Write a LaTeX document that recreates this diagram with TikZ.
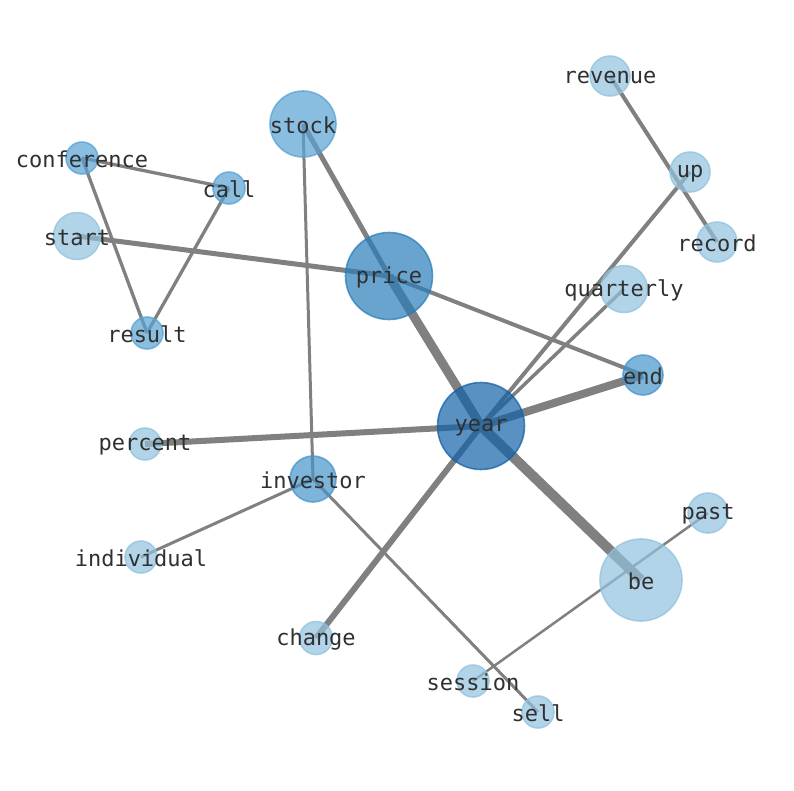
\documentclass[tikz,border=0pt]{standalone}
\usepackage{fontspec}
\setmonofont{DejaVu Sans Mono}
\definecolor{cA}{RGB}{146,194,222}
\definecolor{cB}{RGB}{89,162,211}
\definecolor{cBC}{RGB}{70,148,202}
\definecolor{cC}{RGB}{42,126,186}
\definecolor{cD}{RGB}{19,98,169}
\definecolor{edgec}{RGB}{128,128,128}
\definecolor{txt}{RGB}{48,48,48}
\tikzset{
  nd/.style={circle, inner sep=0pt, fill opacity=0.7, draw opacity=0.75, line width=1.6pt},
  la/.style={nd, fill=cA, draw=cA},
  lb/.style={nd, fill=cB, draw=cB},
  lbc/.style={nd, fill=cBC, draw=cBC},
  lc/.style={nd, fill=cC, draw=cC},
  ld/.style={nd, fill=cD, draw=cD},
  lbl/.style={text=txt, font=\ttfamily\fontsize{22}{24}\selectfont, yshift=-1.5pt},
  ed/.style={draw=edgec, line width=#1pt},
}
\begin{document}
\begin{tikzpicture}[x=1pt,y=-1pt]
\useasboundingbox (0,0) rectangle (794,790);
% coordinates
\coordinate (revenue) at (610,76);
\coordinate (up) at (690,172);
\coordinate (record) at (717,242);
\coordinate (stock) at (303,124);
\coordinate (conference) at (82,158);
\coordinate (call) at (229,188);
\coordinate (start) at (77,236);
\coordinate (price) at (389,276);
\coordinate (quarterly) at (624,289);
\coordinate (result) at (147,333);
\coordinate (end) at (643,375);
\coordinate (year) at (481,426);
\coordinate (percent) at (145,444);
\coordinate (investor) at (313,479);
\coordinate (past) at (708,513);
\coordinate (individual) at (141,557);
\coordinate (be) at (641,580);
\coordinate (change) at (316,638);
\coordinate (session) at (473,681);
\coordinate (sell) at (538,712);
% edges
\draw[ed=4] (revenue) -- (record);
\draw[ed=4] (up) -- (year);
\draw[ed=3.5] (quarterly) -- (year);
\draw[ed=5] (stock) -- (price);
\draw[ed=9] (price) -- (year);
\draw[ed=3] (stock) -- (investor);
\draw[ed=3.3] (conference) -- (call);
\draw[ed=3.3] (conference) -- (result);
\draw[ed=3.3] (call) -- (result);
\draw[ed=5] (start) -- (price);
\draw[ed=4] (price) -- (end);
\draw[ed=8] (year) -- (end);
\draw[ed=6] (year) -- (percent);
\draw[ed=10] (year) -- (be);
\draw[ed=6] (year) -- (change);
\draw[ed=3] (investor) -- (individual);
\draw[ed=3] (investor) -- (sell);
\draw[ed=2.5] (past) -- (session);
% nodes
\node[la, minimum size=40pt] (n-revenue) at (revenue) {};
\node[la, minimum size=40pt] (n-up) at (up) {};
\node[la, minimum size=40pt] (n-record) at (record) {};
\node[lb, minimum size=66pt] (n-stock) at (stock) {};
\node[lb, minimum size=32pt] (n-conference) at (conference) {};
\node[lb, minimum size=32pt] (n-call) at (call) {};
\node[la, minimum size=47pt] (n-start) at (start) {};
\node[lc, minimum size=87pt] (n-price) at (price) {};
\node[la, minimum size=47pt] (n-quarterly) at (quarterly) {};
\node[lb, minimum size=32pt] (n-result) at (result) {};
\node[lbc, minimum size=40pt] (n-end) at (end) {};
\node[ld, minimum size=87pt] (n-year) at (year) {};
\node[la, minimum size=32pt] (n-percent) at (percent) {};
\node[lbc, minimum size=46pt] (n-investor) at (investor) {};
\node[la, minimum size=40pt] (n-past) at (past) {};
\node[la, minimum size=32pt] (n-individual) at (individual) {};
\node[la, minimum size=82pt] (n-be) at (be) {};
\node[la, minimum size=33pt] (n-change) at (change) {};
\node[la, minimum size=32pt] (n-session) at (session) {};
\node[la, minimum size=32pt] (n-sell) at (sell) {};
% labels
\foreach \n in {revenue,up,record,stock,conference,call,start,price,quarterly,result,end,year,percent,investor,past,individual,be,change,session,sell}
  \node[lbl] (t-\n) at (\n) {\n};
\end{tikzpicture}
\end{document}
